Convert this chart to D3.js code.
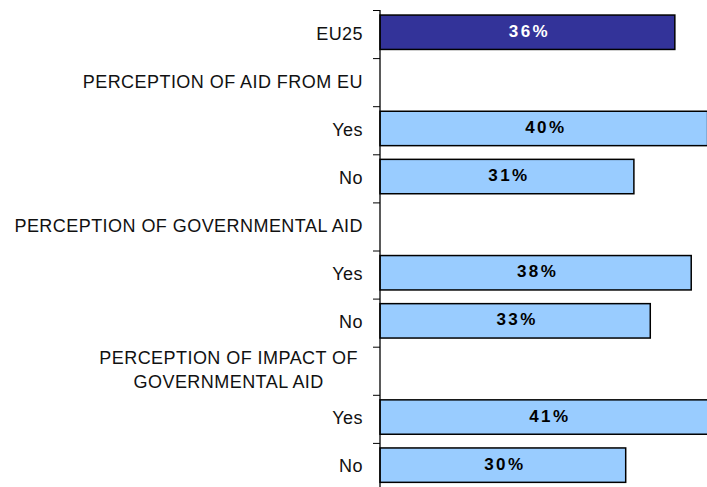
<!DOCTYPE html>
<html>
<head>
<meta charset="utf-8">
<script src="https://cdn.jsdelivr.net/npm/d3@7"></script>
<style>
    body { margin: 0; background: #fff; }
    svg { display: block; font-family: Arial, "Liberation Sans", sans-serif; }
</style>
</head>
<body>
<div id="chart"></div>
<script>
"use strict";

// one row per slot on the axis, headers have no value
const categories = [
    "EU25",
    "PERCEPTION OF AID FROM EU",
    "Yes",
    "No",
    "PERCEPTION OF GOVERNMENTAL AID",
    "Yes",
    "No",
    "PERCEPTION OF IMPACT OF|GOVERNMENTAL AID",
    "Yes",
    "No"
];
const values = [36, null, 40, 31, null, 38, 33, null, 41, 30];
const highlighted = [true, false, false, false, false, false, false, false, false, false];

const WIDTH = 707;
const HEIGHT = 487;
const AXIS_X = 380;
const TOP = 10;
const BOTTOM = 491;

const svg = d3.select("#chart")
    .append("svg")
    .attr("width", WIDTH)
    .attr("height", HEIGHT);

const rows = categories.map((label, i) => ({
    index: i,
    label: label,
    value: values[i],
    highlighted: highlighted[i]
}));

const x = d3.scaleLinear().domain([0, 40]).range([AXIS_X, 707.6]);
const y = d3.scaleBand()
    .domain(rows.map(d => d.index))
    .range([TOP, BOTTOM])
    .padding(0);

const band = y.bandwidth();

// Bars
const bars = svg.selectAll(".bar")
    .data(rows.filter(d => d.value !== null))
    .enter()
    .append("g")
    .classed("bar", true);

bars.append("rect")
    .attr("x", x(0))
    .attr("y", d => y(d.index) + band * 0.105)
    .attr("width", d => x(d.value) - x(0))
    .attr("height", band * 0.715)
    .attr("fill", d => (d.highlighted ? "#333399" : "#99ccff"))
    .attr("stroke", "#000")
    .attr("stroke-width", 1.5);

bars.append("text")
    .attr("x", d => (x(0) + x(d.value)) / 2 + 2)
    .attr("y", d => y(d.index) + band * 0.105 + band * 0.715 / 2 + 4.5)
    .attr("text-anchor", "middle")
    .attr("font-size", 17)
    .attr("font-weight", "bold")
    .attr("letter-spacing", 2.4)
    .attr("fill", d => (d.highlighted ? "#fff" : "#000"))
    .text(d => d.value + "%");

// Axis line and ticks between the slots
const axis = d3.axisLeft(d3.scaleLinear().domain([0, rows.length]).range([TOP, TOP + band * rows.length]))
    .tickValues(d3.range(0, rows.length + 1))
    .tickSize(7)
    .tickFormat("");

svg.append("g")
    .attr("transform", `translate(${AXIS_X},0)`)
    .call(axis)
    .call(g => g.select(".domain").remove())
    .call(g => g.selectAll("line").attr("stroke", "#000"));

svg.append("line")
    .attr("x1", AXIS_X)
    .attr("x2", AXIS_X)
    .attr("y1", TOP)
    .attr("y2", HEIGHT)
    .attr("stroke", "#000")
    .attr("stroke-width", 1.3);

// Category labels, multi-line ones are centered inside a right-aligned block
const LABEL_RIGHT = 363;
const LABEL_SIZE = 18;
const LABEL_SPACING = 0.45;

svg.selectAll(".label")
    .data(rows)
    .enter()
    .append("text")
    .classed("label", true)
    .attr("font-size", LABEL_SIZE)
    .attr("letter-spacing", LABEL_SPACING)
    .attr("fill", "#111")
    .each(function (d) {
        const text = d3.select(this);
        const lines = d.label.split("|");
        const center = y(d.index) + band / 2;

        if (lines.length === 1) {
            text.attr("x", LABEL_RIGHT)
                .attr("y", center + 5.5)
                .attr("text-anchor", "end")
                .text(lines[0]);
            return;
        }

        text.attr("text-anchor", "middle");
        const spans = lines.map((line, i) =>
            text.append("tspan")
                .attr("y", center + 5.5 + (i - (lines.length - 1) / 2) * 24)
                .text(line)
        );
        const widest = d3.max(spans, s => s.node().getComputedTextLength());
        spans.forEach(s => s.attr("x", LABEL_RIGHT - 5 - widest / 2));
    });
</script>
</body>
</html>
